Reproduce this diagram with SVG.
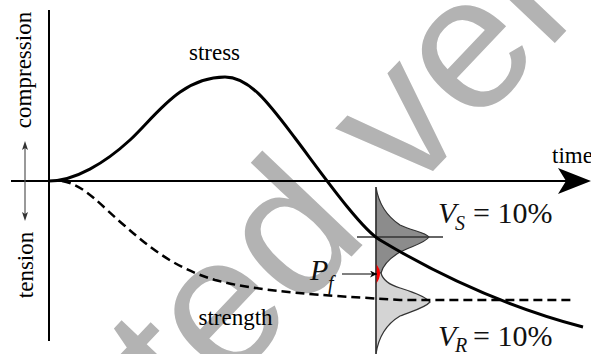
<svg xmlns="http://www.w3.org/2000/svg" width="591" height="354" viewBox="0 0 591 354">
<style>
.lbl{font-family:"Liberation Serif","Times New Roman",serif;font-size:23px;fill:#000}
.math{font-family:"Liberation Serif","Times New Roman",serif;font-size:30px;fill:#111}
.it{font-style:italic}
.sub{font-size:20px;font-style:italic}
.wm{font-family:"Liberation Sans",Arial,sans-serif;font-size:190px;fill:#b3b3b3}
.thin{stroke:#333;stroke-width:1.3;fill:none}
</style>
<defs>
<marker id="ah" viewBox="0 0 10 10" refX="10" refY="5" markerWidth="7" markerHeight="7" markerUnits="userSpaceOnUse" orient="auto">
<path d="M0,0 L10,5 L0,10 L3,5 Z" fill="#000"/>
</marker>
</defs>
<rect width="591" height="354" fill="#fff"/>
<g id="watermark">
<text class="wm" transform="translate(371,236) rotate(-46.5)" text-anchor="end">Accepted</text>
<text class="wm" transform="translate(407.5,198) rotate(-46.5)">version</text>
</g>

<g id="axes">
<line x1="49" y1="10" x2="49" y2="341" stroke="#000" stroke-width="2"/>
<line x1="11" y1="181" x2="572" y2="181" stroke="#000" stroke-width="2"/>
<path d="M558,168 L591,181 L558,194 L566,181 Z" fill="#000"/>
</g>

<g id="axis-labels">
<line x1="25" y1="145" x2="25" y2="217" stroke="#555" stroke-width="1.2"/>
<path d="M25,141 L28,150 L25,148 L22,150 Z" fill="#333"/>
<path d="M25,221 L28,212 L25,214 L22,212 Z" fill="#333"/>
<text class="lbl" transform="translate(31,70) rotate(-90)" text-anchor="middle">compression</text>
<text class="lbl" transform="translate(33,265) rotate(-90)" text-anchor="middle">tension</text>
<text class="lbl" x="552" y="163">time</text>
</g>

<g id="distributions">
<path id="stress-pdf" d="M376,187 C378,200 385,215 400,225 C412,231 425,232 429,237 C425,243 412,246 400,252 C390,258 383,265 381,273 L376,273 Z" fill="#8c8c8c" stroke="#333" stroke-width="1.2"/>
<path id="strength-pdf" d="M376,273 L381,273 C383,281 390,285 400,288 C412,292 425,296 430,302 C425,308 412,311 400,316 C385,325 378,340 376,354 Z" fill="#d4d4d4" stroke="#333" stroke-width="1.2"/>
<path id="overlap" d="M376,264 Q384,273 376,284 Z" fill="#ff0000"/>
<line class="thin" x1="376" y1="187" x2="376" y2="354"/>
<line class="thin" x1="357" y1="237" x2="443" y2="237"/>
</g>

<g id="connectors">
<path id="stress-curve" d="M49,181 C75,181 105,163 130,140 C155,117 180,77 225,77 C250,77 270,105 295,138 C320,171 360,228 380,240 C400,252 480,300 583,327" fill="none" stroke="#000" stroke-width="3"/>
<path id="strength-curve" d="M62,181 C85,185 100,205 125,226 C150,248 175,268 215,280 C260,292 320,295 400,300 L575,300" fill="none" stroke="#000" stroke-width="2.5" stroke-dasharray="9,5"/>
<line x1="342" y1="274" x2="377" y2="274" stroke="#000" stroke-width="1" marker-end="url(#ah)"/>
</g>

<g id="label-stress"><text class="lbl" x="214.5" y="60" text-anchor="middle">stress</text></g>
<g id="label-strength"><text class="lbl" x="235.5" y="325" text-anchor="middle">strength</text></g>
<g id="label-pf"><text class="math it" x="310" y="280">P</text><text class="math sub" x="328" y="290">f</text></g>
<g id="label-vs"><text class="math it" x="438" y="223">V</text><text class="math sub" x="455" y="230">S</text><text class="math" x="473" y="223">= 10%</text></g>
<g id="label-vr"><text class="math it" x="438" y="346">V</text><text class="math sub" x="455" y="352">R</text><text class="math" x="473" y="346">= 10%</text></g>
</svg>
